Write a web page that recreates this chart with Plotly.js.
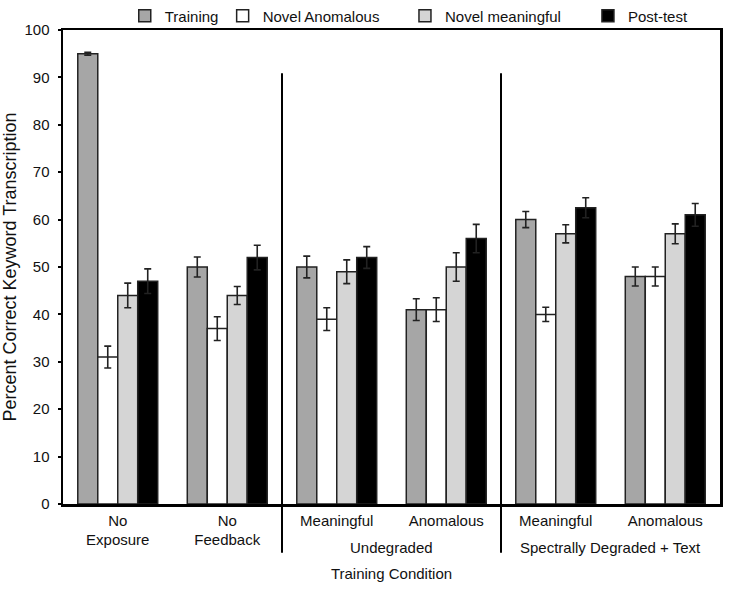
<!DOCTYPE html>
<html>
<head>
<meta charset="utf-8">
<script src="https://cdn.plot.ly/plotly-3.0.1.min.js"></script>
<style>html,body{margin:0;padding:0;background:#fff;}#chart{width:729px;height:590px;}</style>
</head>
<body>
<div id="chart"></div>
<script>
// ---- data ----
const categories = ["No Exposure", "No Feedback", "Undegraded Meaningful", "Undegraded Anomalous", "Degraded Meaningful", "Degraded Anomalous"];
const tickLabels = ["No<br>Exposure", "No<br>Feedback", "Meaningful", "Anomalous", "Meaningful", "Anomalous"];
const groupLabels = ["Undegraded", "Spectrally Degraded + Text"];
const seriesNames = ["Training", "Novel Anomalous", "Novel meaningful", "Post-test"];

const training = [95, 50, 50, 41, 60, 48];
const trainingErr = [0.3, 2.1, 2.3, 2.3, 1.7, 2.0];
const novelAnomalous = [31, 37, 39, 41, 40, 48];
const novelAnomalousErr = [2.3, 2.5, 2.4, 2.5, 1.5, 2.0];
const novelMeaningful = [44, 44, 49, 50, 57, 57];
const novelMeaningfulErr = [2.6, 1.9, 2.5, 3.0, 1.9, 2.1];
const postTest = [47, 52, 52, 56, 62.5, 61];
const postTestErr = [2.6, 2.6, 2.3, 3.0, 2.1, 2.4];

const FONT = "Liberation Sans, Arial, Helvetica, sans-serif";
const colors = ["#a6a6a6", "#ffffff", "#d5d5d5", "#000000"];
const values = [training, novelAnomalous, novelMeaningful, postTest];
const errs = [trainingErr, novelAnomalousErr, novelMeaningfulErr, postTestErr];
const legendIds = ["legend", "legend2", "legend3", "legend4"];
const legendX = [0.094, 0.243, 0.5205, 0.799];

const traces = seriesNames.map((name, i) => ({
  type: "bar",
  name: name,
  x: categories,
  y: values[i],
  legend: legendIds[i],
  marker: { color: colors[i], line: { color: "#222", width: 1.5 } },
  error_y: { type: "data", array: errs[i], visible: true, color: "#222", thickness: 1.6, width: 3.5 }
}));

const layout = {
  width: 729,
  height: 590,
  margin: { l: 63, r: 9, t: 30, b: 86, autoexpand: false },
  paper_bgcolor: "#fff",
  plot_bgcolor: "#fff",
  font: { family: FONT, size: 15, color: "#111" },
  barmode: "group",
  bargap: 0.27,
  bargroupgap: 0,
  showlegend: true,
  xaxis: {
    type: "category",
    range: [-0.5, 5.5],
    tickvals: categories,
    ticktext: tickLabels,
    ticks: "outside",
    ticklen: 1,
    tickcolor: "rgba(0,0,0,0)",
    showline: true,
    linecolor: "#000",
    linewidth: 2.5,
    mirror: true,
    showgrid: false,
    zeroline: false,
    automargin: false,
    tickfont: { family: FONT, size: 15, color: "#111" },
    title: { text: "Training Condition", font: { family: FONT, size: 15, color: "#111" }, standoff: 22 }
  },
  yaxis: {
    range: [0, 100],
    dtick: 10,
    ticks: "outside",
    ticklen: 3,
    tickwidth: 2,
    tickcolor: "#000",
    ticklabelstandoff: 5,
    showline: true,
    linecolor: "#000",
    linewidth: 2.5,
    mirror: true,
    showgrid: false,
    zeroline: false,
    automargin: false,
    tickfont: { family: FONT, size: 15, color: "#111" },
    title: { text: "Percent Correct Keyword Transcription", font: { family: FONT, size: 18, color: "#111" }, standoff: 3 }
  },
  shapes: [1.5, 3.5].map(xv => ({
    type: "line", xref: "x", yref: "paper", x0: xv, x1: xv, y0: -0.103, y1: 0.909,
    line: { color: "#000", width: 2 }
  })),
  annotations: [
    { x: 2.5, y: -0.092, xref: "x", yref: "paper", yanchor: "middle", text: groupLabels[0], showarrow: false, font: { family: FONT, size: 15, color: "#111" } },
    { x: 4.5, y: -0.092, xref: "x", yref: "paper", yanchor: "middle", text: groupLabels[1], showarrow: false, font: { family: FONT, size: 15, color: "#111" } }
  ]
};

legendIds.forEach((id, i) => {
  layout[id] = {
    x: legendX[i], y: 1.0295, xanchor: "left", yanchor: "middle",
    orientation: "h", bgcolor: "rgba(0,0,0,0)", borderwidth: 0,
    font: { family: FONT, size: 15, color: "#111" }
  };
});

Plotly.newPlot("chart", traces, layout, { displayModeBar: false, staticPlot: true });
</script>
</body>
</html>
